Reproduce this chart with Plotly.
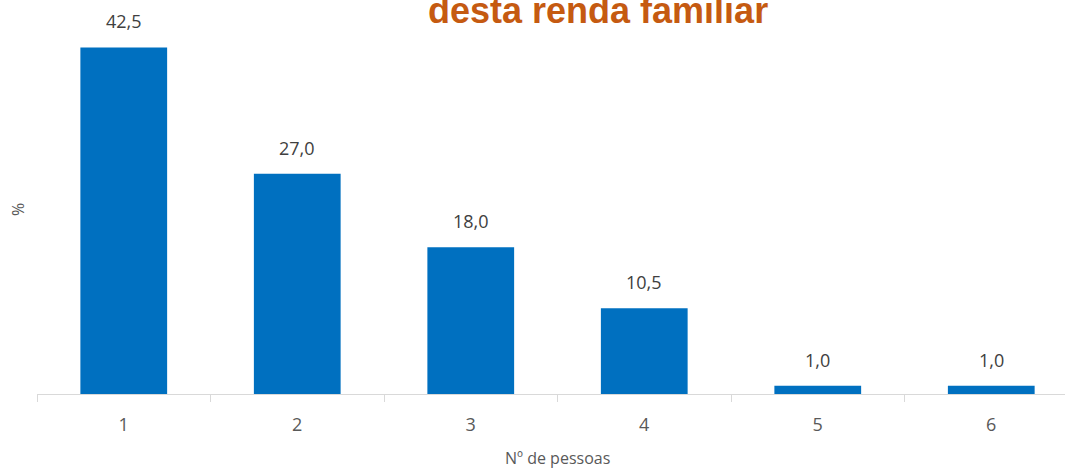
import plotly.graph_objects as go

categories = ["1", "2", "3", "4", "5", "6"]
values = [42.5, 27.0, 18.0, 10.5, 1.0, 1.0]
value_labels = ["42,5", "27,0", "18,0", "10,5", "1,0", "1,0"]
title_text = "desta renda familiar"
x_title = "Nº de pessoas"
y_title = "%"

W, H = 1065, 469
L, R, T, B = 37, 0, 27, 75
plot_w = W - L - R
plot_h = H - T - B

def px_x(px):
    return (px - L) / plot_w

def px_y(py):
    return (H - B - py) / plot_h

fig = go.Figure()
fig.add_trace(go.Bar(
    x=categories, y=values,
    marker=dict(color="#0070C0", line=dict(width=0)),
    hoverinfo="skip",
))

annotations = []
for i, (v, t) in enumerate(zip(values, value_labels)):
    annotations.append(dict(
        x=i, y=v, xref="x", yref="y", text=t, showarrow=False,
        yanchor="bottom", yshift=12,
        font=dict(family="Open Sans", size=18, color="#404040"),
    ))

annotations.append(dict(
    x=px_x(598), y=px_y(10.5), xref="paper", yref="paper", text=f"<b>{title_text}</b>",
    showarrow=False, xanchor="center", yanchor="middle",
    font=dict(family="Liberation Sans", size=36, color="#C55A11"),
))
annotations.append(dict(
    x=px_x(557), y=px_y(458), xref="paper", yref="paper", text=x_title,
    showarrow=False, xanchor="center", yanchor="middle",
    font=dict(family="Open Sans", size=16, color="#595959"),
))
annotations.append(dict(
    x=px_x(18), y=px_y(210), xref="paper", yref="paper", text=y_title,
    showarrow=False, xanchor="center", yanchor="middle", textangle=-90,
    font=dict(family="Open Sans", size=16, color="#595959"),
))

fig.update_layout(
    width=W, height=H,
    margin=dict(l=L, r=R, t=T, b=B, pad=0),
    paper_bgcolor="white", plot_bgcolor="white",
    bargap=0.5, showlegend=False,
    annotations=annotations,
)
fig.update_xaxes(
    type="category", range=[-0.5, 5.425],
    showline=True, linecolor="#d9d9d9", linewidth=1,
    ticks="outside", tickson="boundaries", ticklen=7, tickcolor="#d9d9d9", tickwidth=1,
    ticklabelstandoff=14,
    tickfont=dict(family="Open Sans", size=18, color="#595959"),
    showgrid=False, zeroline=False,
)
fig.update_yaxes(
    range=[0, 45], showticklabels=False, showgrid=False, zeroline=False,
    showline=False, ticks="",
)

fig.write_html("out.html", config={"displayModeBar": False},
               post_script="document.body.style.margin='0';")
